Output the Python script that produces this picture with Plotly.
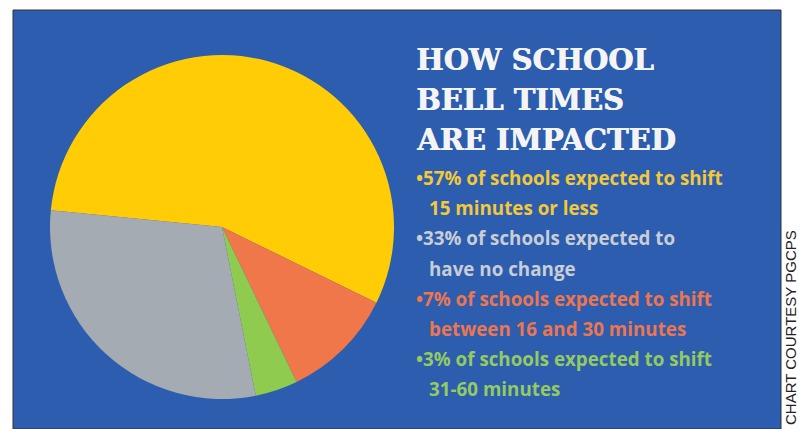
import plotly.graph_objects as go

# slice sizes as drawn in the pie (clockwise from the yellow slice)
labels = ["15 minutes or less", "16-30 minutes", "31-60 minutes", "No change"]
values = [55.7, 10.6, 4.0, 29.7]
colors = ["#FFCC05", "#EF774A", "#8FCB4E", "#A4ABB2"]

title_lines = ["HOW SCHOOL", "BELL TIMES", "ARE IMPACTED"]
bullet_lines = [
    ("\u202257% of schools expected to shift", "#F2C93A"),
    ("15 minutes or less", "#F2C93A"),
    ("\u202233% of schools expected to", "#C9CED6"),
    ("have no change", "#C9CED6"),
    ("\u20227% of schools expected to shift", "#EC7650"),
    ("between 16 and 30 minutes", "#EC7650"),
    ("\u20223% of schools expected to shift", "#93CB62"),
    ("31-60 minutes", "#93CB62"),
]

W, H = 799, 429
BLUE = "#2D5DAE"


def px(x):
    return x / W


def py(y):
    # y measured from the top in pixels
    return 1 - y / H


fig = go.Figure()

fig.add_trace(go.Pie(
    labels=labels, values=values, sort=False, direction="clockwise",
    rotation=-84.4, marker=dict(colors=colors, line=dict(width=0)),
    textinfo="none", hoverinfo="label+value", showlegend=False,
    domain=dict(x=[px(50), px(394)], y=[py(399), py(55)]),
))

# blue panel
fig.add_shape(type="rect", xref="paper", yref="paper",
              x0=px(13), x1=px(781), y0=0, y1=py(10),
              fillcolor=BLUE, line=dict(color="#333333", width=1), layer="below")

# title
for i, t in enumerate(title_lines):
    fig.add_annotation(text="<b>%s</b>" % t, xref="paper", yref="paper",
                       x=px(414), y=py(60 + i * 40), xanchor="left", yanchor="middle",
                       showarrow=False,
                       font=dict(family="DejaVu Serif", size=29, color="#F4F4F4",
                                 shadow="0.7px 0px 0px #F4F4F4"))

# bullets
for i, (t, c) in enumerate(bullet_lines):
    indent = 414 if t.startswith("\u2022") else 427
    fig.add_annotation(text="<b>%s</b>" % t, xref="paper", yref="paper",
                       x=px(indent), y=py(178 + i * 30.2), xanchor="left", yanchor="middle",
                       showarrow=False,
                       font=dict(family="Open Sans", size=18.8, color=c))

# credit
fig.add_annotation(text="CHART COURTESY PGCPS", xref="paper", yref="paper",
                   x=px(790), y=py(328), textangle=-90, showarrow=False,
                   xanchor="center", yanchor="middle",
                   font=dict(family="Liberation Sans", size=15, color="#222222"))

fig.update_layout(width=W, height=H, margin=dict(l=0, r=0, t=0, b=0),
                  paper_bgcolor="white", plot_bgcolor="white")

fig.write_html("out.html", config={"displayModeBar": False},
               post_script="document.body.style.margin='0';")
